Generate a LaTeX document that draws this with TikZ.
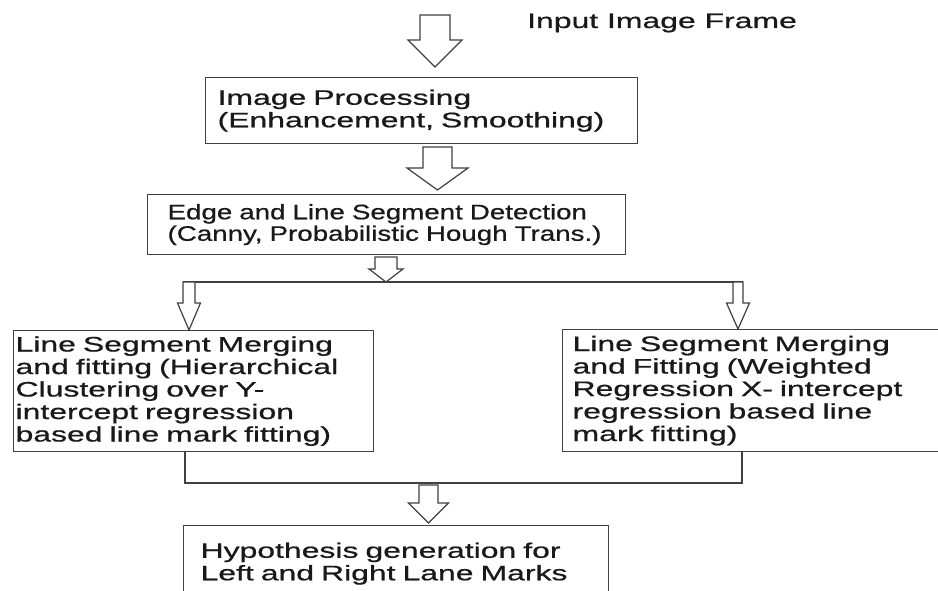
\documentclass[tikz,border=0pt]{standalone}
\usepackage{fontspec}
\newfontfamily\stagefont{Liberation Sans}[FakeStretch=1.52,FakeBold=0.7]
\newfontfamily\detectfont{Liberation Sans}[FakeStretch=1.32,FakeBold=0.7]
\newcommand{\hollowarrow}[5]{\draw[hollow] (#1) -- ++(-#3,-#4) -- ++({#3-#2},0) -- ++(0,-#5) -- ++({2*#2},0) -- ++(0,#5) -- ++({#3-#2},0) -- cycle;}

\begin{document}
\begin{tikzpicture}[x=1pt,y=-1pt,
    stage/.style={draw=black!75, line width=1.2pt, fill=white, text=black!90, align=left, anchor=north west, inner ysep=0pt, font=\stagefont\fontsize{21}{22.5}\selectfont},
    wire/.style={draw=black!75, line width=1.2pt},
    hollow/.style={draw=black!75, line width=1.2pt, fill=white, line join=miter}]
    \useasboundingbox (0,0) rectangle (938,591);
    \clip (0,0) rectangle (938,591);
    \node[anchor=base west, inner sep=0pt, text=black!90, font=\stagefont\fontsize{21}{22.5}\selectfont] (input) at (527,28) {Input Image Frame};
    \node[stage, minimum width=432pt, minimum height=66pt, text width=408pt, inner xsep=12pt] (proc) at (205,77) {Image Processing\\(Enhancement, Smoothing)};
    \node[stage, minimum width=478pt, minimum height=60pt, text width=438pt, inner xsep=20pt, font=\detectfont\fontsize{21}{21.5}\selectfont] (detect) at (147,194) {Edge and Line Segment Detection\\(Canny, Probabilistic Hough Trans.)};
    \node[stage, minimum width=360pt, minimum height=121pt, text width=356pt, inner xsep=2pt] (mergeleft) at (13,330) {Line Segment Merging\\and fitting (Hierarchical\\Clustering over Y-\\intercept regression\\based line mark fitting)};
    \node[stage, minimum width=400pt, minimum height=122pt, text width=380pt, inner xsep=10pt] (mergeright) at (562,329) {Line Segment Merging\\and Fitting (Weighted\\Regression X- intercept\\regression based line\\mark fitting)};
    \node[stage, minimum width=425pt, minimum height=76pt, text width=391pt, inner xsep=17pt] (hypo) at (183,525) {Hypothesis generation for\\Left and Right Lane Marks};
    \coordinate (splitL) at (183,282);
    \coordinate (splitR) at (743,282);
    \coordinate (joinL) at (185,483);
    \coordinate (joinR) at (742,483);
    \draw[wire] (splitL) -- (splitR);
    \draw[wire] (mergeleft.south -| joinL) -- (joinL) -- (joinR) -- (mergeright.south -| joinR);
    \coordinate (tipproc) at (435,67);
    \coordinate (tipdetect) at (437.5,190);
    \coordinate (tipsplit) at (386,282);
    \coordinate (tipleft) at (189,330);
    \coordinate (tipright) at (738,329);
    \coordinate (tiphypo) at (428.5,523);
    \hollowarrow{tipproc}{15}{27}{27}{25}
    \hollowarrow{tipdetect}{14.5}{30.5}{22}{21}
    \hollowarrow{tipsplit}{11}{17}{13}{12}
    \hollowarrow{tipleft}{6}{11.5}{27}{21}
    \hollowarrow{tipright}{5}{11.5}{26}{21}
    \hollowarrow{tiphypo}{9.5}{20}{20}{18}
\end{tikzpicture}
\end{document}
